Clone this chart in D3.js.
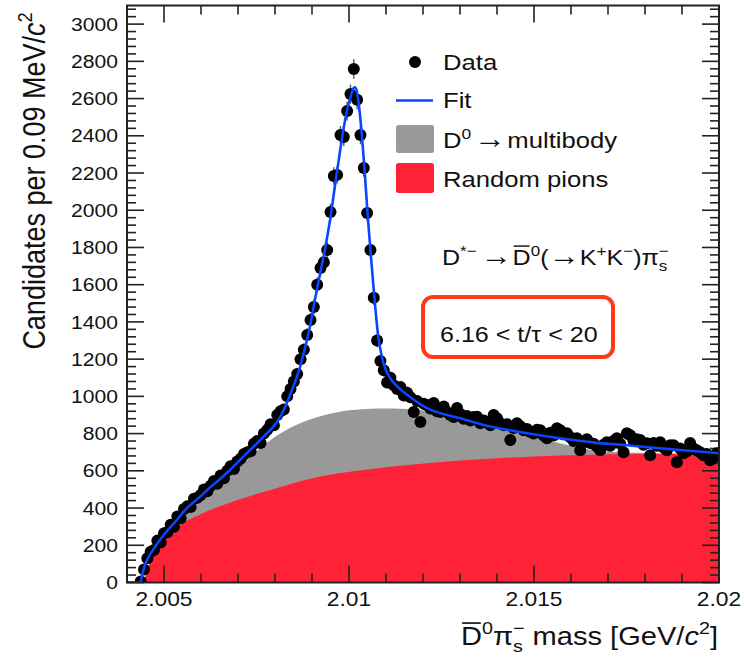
<!DOCTYPE html>
<html><head><meta charset="utf-8">
<script src="https://cdn.jsdelivr.net/npm/d3@7"></script>
<style>body{margin:0;background:#fff} svg{display:block}</style>
</head><body>
<svg id="c" width="744" height="662"></svg>
<script>
// ---------------- data ----------------
const binStart = 2.00437;      // centre of first bin (GeV/c^2)
const binWidth = 0.00009;      // 0.09 MeV/c^2
const counts = [
 5,70,130,165,175,225,215,265,270,310,300,355,345,395,410,405,450,455,470,500,
 490,520,545,530,575,560,600,625,610,650,665,690,700,705,745,760,750,800,820,850,
 845,900,920,930,1000,1040,1080,1120,1200,1250,1330,1410,1480,1600,1690,1720,1786,1990,2184,2190,
 2404,2393,2533,2625,2759,2593,2404,2227,1985,1786,1530,1300,1190,1140,1075,1100,1060,1040,1050,1005,
 1020,995,916,975,862,960,954,935,964,920,916,945,916,900,889,937,905,880,895,870,
 889,890,856,870,860,845,900,883,856,845,850,765,830,856,840,818,825,808,800,820,
 818,790,775,805,790,829,818,795,802,780,760,775,711,755,770,749,745,730,711,740,
 754,735,760,775,745,700,802,791,760,770,765,740,748,684,749,735,754,725,711,738,
 738,646,720,695,705,749,720,711,700,684,690,657,670,695
];
const fitMass = [2.00400,2.00436,2.00443,2.00454,2.00470,2.00484,2.00497,2.00516,2.00530,2.00562,2.00597,2.00616,2.00651,2.00678,2.00724,2.00768,2.00814,2.00849,2.00868,2.00881,2.00895,2.00908,2.00922,2.00935,2.00949,2.00962,2.00976,2.00989,2.01003,2.01014,2.01019,2.01027,2.01035,2.01043,2.01051,2.01059,2.01070,2.01078,2.01089,2.01100,2.01116,2.01138,2.01165,2.01211,2.01300,2.01389,2.01481,2.01570,2.01659,2.01751,2.01841,2.02000];
const fitVal  = [0,0,60,120,174,215,250,295,325,400,460,496,555,604,695,781,889,1050,1160,1260,1380,1520,1660,1790,1950,2130,2320,2480,2600,2660,2655,2560,2400,2190,1960,1760,1500,1340,1210,1140,1085,1040,997,937,883,835,802,775,753,737,721,694];
const multiMass = [2.00436,2.00449,2.00470,2.00489,2.00516,2.00557,2.00605,2.00651,2.00697,2.00768,2.00814,2.00868,2.00922,2.00976,2.01057,2.01138,2.01211,2.01300,2.01389,2.01481,2.01570,2.01659,2.01751,2.01841,2.02000];
const multiTop  = [0,30,165,230,290,375,465,540,620,735,800,855,893,918,933,934,922,885,845,800,748,712,698,695,692];
const pionMass = [2.00436,2.00449,2.00470,2.00489,2.00516,2.00557,2.00605,2.00651,2.00697,2.00786,2.00876,2.00968,2.01057,2.01138,2.01300,2.01570,2.01841,2.02000];
const pionVal  = [0,28,157,215,265,325,372,410,442,496,548,585,609,627,655,682,690,690];
const yTicks = [0,200,400,600,800,1000,1200,1400,1600,1800,2000,2200,2400,2600,2800,3000];
const xTicks = [2.005,2.01,2.015,2.02];
const xTickLabels = ["2.005","2.01","2.015","2.02"];

// ---------------- setup ----------------
const SX = 1.14;
const FONT = "'Liberation Sans', Arial, Helvetica, sans-serif";
const svg = d3.select("#c");
const x = d3.scaleLinear().domain([2.004, 2.02]).range([127, 719]);
const y = d3.scaleLinear().domain([0, 3100]).range([582.5, 5.5]);
const [X0, X1] = x.range(), [Y0, Y1] = y.range();

svg.append("defs").append("clipPath").attr("id","clip")
  .append("rect").attr("x",X0).attr("y",Y1).attr("width",X1-X0).attr("height",Y0-Y1);

function richText(parent, tx, ty, segs, fs, anchor, extra) {
  const g = parent.append("g").attr("transform", `translate(${tx},${ty}) scale(${SX},1)` + (extra||""));
  const t = g.append("text").attr("font-size", fs).attr("font-family", FONT)
     .attr("fill", "#111").attr("text-anchor", anchor || "start");
  let cur = 0, idx = 0, prev = null; const overs = [];
  segs.forEach(s => {
    const small = s.sup || s.sub;
    const target = s.sup ? -0.42*fs : (s.sub ? 0.28*fs : 0);
    const size = small ? fs*0.68 : (s.big ? fs*1.25 : fs);
    const ts = t.append("tspan").text(s.t).attr("font-size", size).attr("dy", target - cur);
    if (s.it) ts.attr("font-style", "italic");
    if (s.dx) ts.attr("dx", s.dx*fs);
    if (s.stack && prev) ts.attr("dx", -prev.getComputedTextLength());
    cur = target;
    if (s.over) overs.push(idx);
    idx += s.t.length;
    prev = ts.node();
  });
  overs.forEach(i => {
    const e = t.node().getExtentOfChar(i);
    g.append("line").attr("x1", e.x+1).attr("x2", e.x+e.width-1)
     .attr("y1", -0.86*fs).attr("y2", -0.86*fs)
     .attr("stroke", "#111").attr("stroke-width", fs*0.065);
  });
  return g;
}

// ---------------- fills ----------------
const plot = svg.append("g").attr("clip-path","url(#clip)");
const area = d3.area().x(d=>x(d[0])).y0(y(0)).y1(d=>y(Math.max(0,d[1]))).curve(d3.curveMonotoneX);
const smooth = d3.area().x(d=>x(d[0])).y0(y(0)).y1(d=>y(d[1])).curve(d3.curveCatmullRom.alpha(0.5));
plot.append("path").datum(d3.zip(multiMass, multiTop)).attr("d", smooth).attr("fill", "#999999");
plot.append("path").datum(d3.zip(pionMass, pionVal)).attr("d", area).attr("fill", "#fe2236");

// ---------------- ticks ----------------
const axG = svg.append("g").attr("stroke", "#222").attr("stroke-width", 1.6);
const yMinor = d3.range(0, 3100.1, 40);
yMinor.forEach(v => {
  const major = yTicks.includes(v);
  const L = major ? 17 : 9;
  axG.append("line").attr("x1", X0).attr("x2", X0+L).attr("y1", y(v)).attr("y2", y(v));
  axG.append("line").attr("x1", X1).attr("x2", X1-L).attr("y1", y(v)).attr("y2", y(v));
});
const xMinor = d3.range(2.004, 2.02001, 0.001);
xMinor.forEach(v => {
  const major = xTicks.some(t => Math.abs(t - v) < 1e-7);
  const L = major ? 17 : 9;
  axG.append("line").attr("x1", x(v)).attr("x2", x(v)).attr("y1", Y0).attr("y2", Y0-L);
  axG.append("line").attr("x1", x(v)).attr("x2", x(v)).attr("y1", Y1).attr("y2", Y1+L);
});

// ---------------- data points ----------------
const pts = counts.map((c, i) => [binStart + i*binWidth, c]);
const dg = svg.append("g").attr("clip-path","url(#clip)");
dg.selectAll("line.err").data(pts).enter().append("line")
  .attr("x1", d=>x(d[0])).attr("x2", d=>x(d[0]))
  .attr("y1", d=>y(d[1]+Math.sqrt(d[1]))).attr("y2", d=>y(Math.max(0,d[1]-Math.sqrt(d[1]))))
  .attr("stroke", "#44558f").attr("stroke-width", 1.4);
dg.selectAll("circle").data(pts).enter().append("circle")
  .attr("cx", d=>x(d[0])).attr("cy", d=>y(d[1])).attr("r", 6).attr("fill", "#000");

// ---------------- fit ----------------
const line = d3.line().x(d=>x(d[0])).y(d=>y(d[1])).curve(d3.curveMonotoneX);
svg.append("path").datum(d3.zip(fitMass, fitVal)).attr("d", line)
  .attr("fill","none").attr("stroke","#0a45ff").attr("stroke-width",2.6).attr("clip-path","url(#clip)");

// ---------------- frame ----------------
svg.append("rect").attr("x",X0).attr("y",Y1).attr("width",X1-X0).attr("height",Y0-Y1)
  .attr("fill","none").attr("stroke","#222").attr("stroke-width",2);

// ---------------- tick labels ----------------
yTicks.forEach(v => richText(svg, 118, y(v) + 0.36*18.5, [{t:String(v)}], 18.5, "end"));
xTicks.forEach((v,i) => richText(svg, x(v), 606, [{t:xTickLabels[i]}], 20, "middle"));

// ---------------- axis titles ----------------
richText(svg, 45, 181, [{t:"Candidates per 0.09 MeV/"},{t:"c",it:true},{t:"2",sup:true}], 27, "middle", " rotate(-90)");
richText(svg, 718, 645, [{t:"D",over:true},{t:"0",sup:true},{t:"π"},{t:"s",sub:true},{t:"−",sup:true,stack:true},
  {t:" mass [GeV/"},{t:"c",it:true},{t:"2",sup:true},{t:"]"}], 25.5, "end");

// ---------------- legend ----------------
const lg = svg.append("g");
lg.append("circle").attr("cx",415).attr("cy",62).attr("r",6).attr("fill","#000");
lg.append("line").attr("x1",396).attr("x2",433).attr("y1",100.5).attr("y2",100.5).attr("stroke","#0a45ff").attr("stroke-width",2.6);
lg.append("rect").attr("x",396).attr("y",125).attr("width",38).attr("height",28).attr("rx",2.5).attr("fill","#999999");
lg.append("rect").attr("x",396).attr("y",163).attr("width",38).attr("height",30).attr("rx",2.5).attr("fill","#fe2236");
richText(svg, 443, 70, [{t:"Data"}], 22.5);
richText(svg, 443, 108, [{t:"Fit"}], 22.5);
richText(svg, 443, 148, [{t:"D"},{t:"0",sup:true},{t:"→",dx:0.1,big:true},{t:"multibody",dx:0.06}], 22.5);
richText(svg, 443, 187, [{t:"Random pions"}], 22.5);

// ---------------- annotations ----------------
richText(svg, 442, 265, [{t:"D"},{t:"*−",sup:true},{t:"→",dx:0.15,big:true},{t:"D",over:true,dx:0.03},{t:"0",sup:true},{t:"("},{t:"→",big:true},{t:"K"},{t:"+",sup:true},
  {t:"K"},{t:"−",sup:true},{t:")π"},{t:"s",sub:true},{t:"−",sup:true,stack:true}], 22);
svg.append("rect").attr("x",423).attr("y",297).attr("width",190).attr("height",60).attr("rx",10)
  .attr("fill","#fff").attr("stroke","#ff3a1a").attr("stroke-width",4);
richText(svg, 440, 342, [{t:"6.16 < t/τ < 20"}], 22);
</script></body></html>
